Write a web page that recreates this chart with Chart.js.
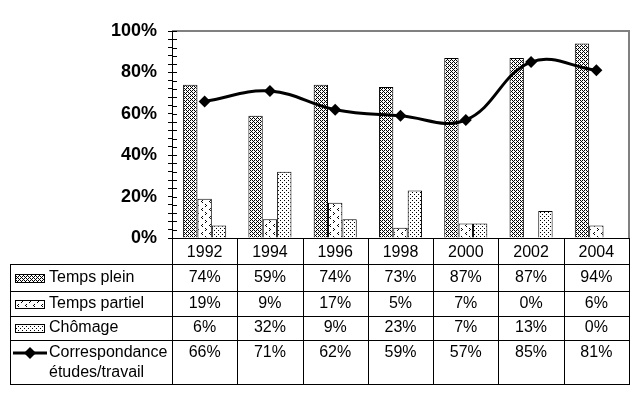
<!DOCTYPE html>
<html lang="fr">
  <head>
    <meta charset="UTF-8" />
    <title>Situation des diplômés</title>
    <script src="https://cdn.jsdelivr.net/npm/chart.js@4.4.1/dist/chart.umd.min.js"></script>
    <style>
      html, body { margin: 0; padding: 0; background: #fff; }
      #wrap { width: 639px; height: 399px; }
    </style>
  </head>
  <body>
    <div id="wrap"><canvas id="chart" width="639" height="399"></canvas></div>

    <script>
      // data
      const years = ['1992', '1994', '1996', '1998', '2000', '2002', '2004'];
      const tempsPlein = [74, 59, 74, 73, 87, 87, 94];
      const tempsPartiel = [19, 9, 17, 5, 7, 0, 6];
      const chomage = [6, 32, 9, 23, 7, 13, 0];
      const correspondance = [66, 71, 62, 59, 57, 85, 81];
      const rowLabels = [['Temps plein'], ['Temps partiel'], ['Chômage'], ['Correspondance', 'études/travail']];
      const yMax = 100;
      const yStep = 4;
      const yLabelEvery = 20;

      const FONT = "'Liberation Sans', Arial, sans-serif";

      // bitmap-like fill patterns, like the old Excel ones
      function makePattern(size, dots, bg, fg) {
        const c = document.createElement('canvas');
        c.width = size;
        c.height = size;
        const g = c.getContext('2d');
        g.fillStyle = bg;
        g.fillRect(0, 0, size, size);
        g.fillStyle = fg;
        dots.forEach(([dx, dy]) => g.fillRect(dx, dy, 1, 1));
        return g.createPattern(c, 'repeat');
      }

      const pleinPattern = makePattern(4, [[0, 0], [2, 0], [0, 2], [2, 2], [1, 1], [3, 3]], '#fff', '#000');
      const partielPattern = makePattern(8, [[2, 0], [1, 1], [2, 2], [5, 4], [6, 5], [5, 6]], '#fff', '#000');
      const chomagePattern = makePattern(4, [[0, 0], [2, 2]], '#fff', '#000');
      const patterns = [pleinPattern, partielPattern, chomagePattern];
      const tableValues = [tempsPlein, tempsPartiel, chomage, correspondance];

      // table rows, offsets below the x axis line
      const headerH = 26;
      const rowBottoms = [53, 78, 102, 146];
      const tableLeft = 10;

      function crisp(v) {
        return Math.round(v) + 0.5;
      }

      const dataTable = {
        id: 'dataTable',
        afterDraw(chart) {
          const ctx = chart.ctx;
          const a = chart.chartArea;
          const xs = chart.scales.x;
          const ys = chart.scales.y;
          const colW = xs.width / years.length;
          const top = a.bottom;
          const bottom = top + rowBottoms[rowBottoms.length - 1];

          ctx.save();

          // grey plot area border (top & right)
          ctx.strokeStyle = '#808080';
          ctx.lineWidth = 2;
          ctx.beginPath();
          ctx.moveTo(a.left, a.top);
          ctx.lineTo(a.right, a.top);
          ctx.lineTo(a.right, a.bottom);
          ctx.stroke();

          // tick marks crossing the axis (inner half)
          ctx.strokeStyle = '#000';
          ctx.lineWidth = 1;
          ctx.beginPath();
          ys.ticks.forEach((t) => {
            const py = crisp(ys.getPixelForValue(t.value));
            ctx.moveTo(a.left, py);
            ctx.lineTo(a.left + 5, py);
          });
          ctx.stroke();

          // table grid
          ctx.beginPath();
          [headerH].concat(rowBottoms).forEach((off) => {
            const py = crisp(top + off);
            ctx.moveTo(tableLeft, py);
            ctx.lineTo(a.right + 1, py);
          });
          ctx.moveTo(crisp(tableLeft), top + headerH);
          ctx.lineTo(crisp(tableLeft), bottom + 1);
          for (let i = 0; i <= years.length; i++) {
            const px = crisp(xs.getPixelForValue(0) - colW / 2 + i * colW);
            ctx.moveTo(px, top);
            ctx.lineTo(px, bottom + 1);
          }
          ctx.stroke();

          // rows: legend key, label, values
          ctx.font = '16px ' + FONT;
          ctx.fillStyle = '#000';
          ctx.textBaseline = 'middle';
          rowLabels.forEach((lines, r) => {
            const rTop = top + (r === 0 ? headerH : rowBottoms[r - 1]);
            const rBot = top + rowBottoms[r];
            const cy = lines.length > 1 ? rTop + 13 : (rTop + rBot) / 2;

            if (r < 3) {
              ctx.fillStyle = patterns[r];
              ctx.fillRect(15, Math.round(cy) - 4, 30, 9);
              ctx.strokeStyle = '#000';
              ctx.strokeRect(15.5, Math.round(cy) - 3.5, 29, 8);
            } else {
              ctx.strokeStyle = '#000';
              ctx.lineWidth = 3;
              ctx.beginPath();
              ctx.moveTo(13, cy);
              ctx.lineTo(47, cy);
              ctx.stroke();
              ctx.lineWidth = 1;
              ctx.fillStyle = '#000';
              ctx.beginPath();
              ctx.moveTo(30, cy - 6);
              ctx.lineTo(36, cy);
              ctx.lineTo(30, cy + 6);
              ctx.lineTo(24, cy);
              ctx.closePath();
              ctx.fill();
            }

            ctx.fillStyle = '#000';
            ctx.textAlign = 'left';
            lines.forEach((txt, k) => ctx.fillText(txt, 49, cy + k * 20));

            ctx.textAlign = 'center';
            tableValues[r].forEach((v, i) => {
              ctx.fillText(v + '%', xs.getPixelForValue(i), cy);
            });
          });

          ctx.restore();
        },
      };

      new Chart(document.getElementById('chart'), {
        data: {
          labels: years,
          datasets: [
            {
              type: 'line',
              label: 'Correspondance études/travail',
              data: correspondance,
              borderColor: '#000',
              backgroundColor: '#000',
              borderWidth: 3,
              tension: 0.4,
              pointStyle: 'rectRot',
              pointRadius: 6,
              pointBorderWidth: 0,
              order: 0,
            },
            {
              type: 'bar',
              label: 'Temps plein',
              data: tempsPlein,
              backgroundColor: pleinPattern,
              borderColor: '#000',
              borderWidth: 1,
              order: 1,
            },
            {
              type: 'bar',
              label: 'Temps partiel',
              data: tempsPartiel,
              backgroundColor: partielPattern,
              borderColor: '#000',
              borderWidth: 1,
              order: 1,
            },
            {
              type: 'bar',
              label: 'Chômage',
              data: chomage,
              backgroundColor: chomagePattern,
              borderColor: '#000',
              borderWidth: 1,
              order: 1,
            },
          ],
        },
        options: {
          responsive: false,
          animation: false,
          devicePixelRatio: 1,
          datasets: {
            bar: { categoryPercentage: 0.66, barPercentage: 1.0 },
          },
          layout: {
            padding: { left: 0, right: 10, top: 31, bottom: 135 },
          },
          plugins: {
            legend: { display: false },
            tooltip: { enabled: false },
          },
          scales: {
            x: {
              offset: true,
              grid: { display: false, drawTicks: false },
              border: { display: true, color: '#000', width: 1 },
              ticks: {
                color: '#000',
                font: { family: FONT, size: 16 },
                padding: 5,
              },
              afterFit(scale) {
                scale.height = headerH;
              },
            },
            y: {
              min: 0,
              max: yMax,
              grid: {
                display: true,
                drawOnChartArea: false,
                drawTicks: true,
                tickLength: 4,
                color: '#000',
              },
              border: { display: true, color: '#000', width: 1 },
              ticks: {
                stepSize: yStep,
                autoSkip: false,
                color: '#000',
                padding: 11,
                font: { family: FONT, size: 18, weight: 'bold' },
                callback: (v) => (v % yLabelEvery === 0 ? v + '%' : ''),
              },
              afterFit(scale) {
                scale.width = 172;
              },
            },
          },
        },
        plugins: [dataTable],
      });
    </script>
  </body>
</html>
